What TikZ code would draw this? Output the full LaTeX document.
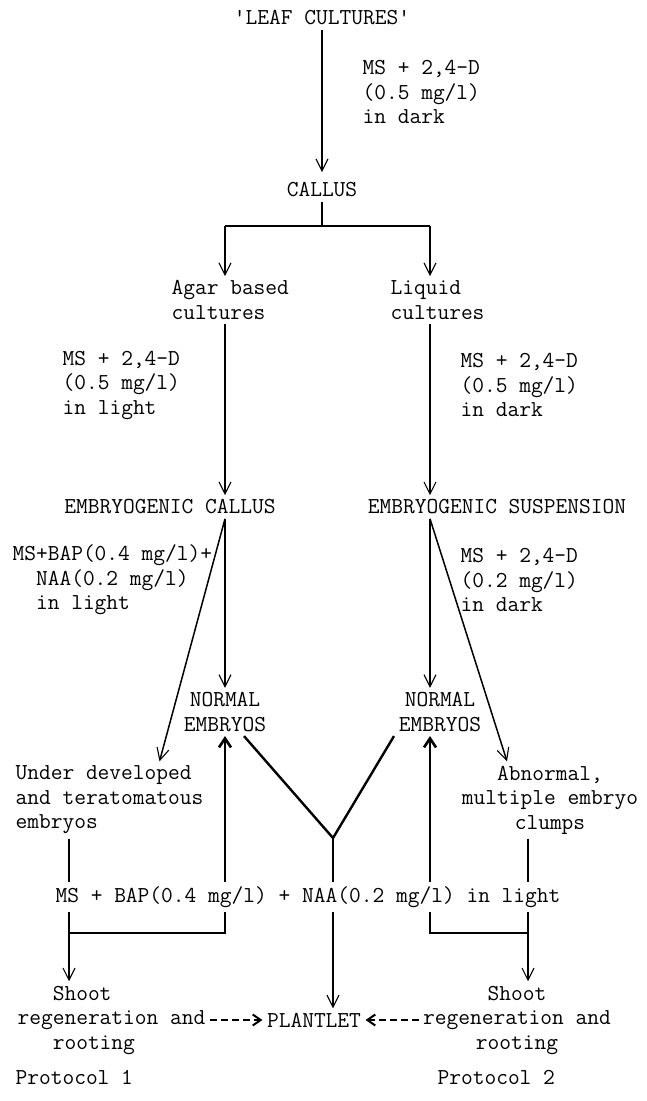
\documentclass[tikz,border=0pt]{standalone}
\usetikzlibrary{arrows.meta}

\begin{document}
\begin{tikzpicture}[
		x=1pt, y=-1pt,
		line width=1.1pt,
		every node/.style={font=\fontsize{22.8}{24.5}\selectfont\ttfamily, inner sep=4pt},
		thin arrow/.style={-{Straight Barb[length=12pt,width=12pt,line width=1.1pt]}},
		bold/.style={line width=2.4pt},
		up arrow/.style={line width=2.6pt, -{Straight Barb[length=9pt,width=12pt,line width=2.6pt]}},
		link dashed/.style={line width=2pt, dash pattern=on 7pt off 4pt, -{Straight Barb[length=8pt,width=11pt,line width=2pt]}},
	]
		\useasboundingbox (0,0) rectangle (646,1101);

		\node (leaf) at (322,18) {'LEAF CULTURES'};
		\node (callus) at (322,190) {CALLUS};
		\node (agar) [anchor=west, align=left] at (167,300) {Agar based\\cultures};
		\node (liquid) [anchor=west, align=left] at (386,300) {Liquid\\cultures};
		\node (emb callus) at (170,507) {EMBRYOGENIC CALLUS};
		\node (emb susp) at (497,507) {EMBRYOGENIC SUSPENSION};
		\node (normal left) [align=center] at (225,712) {NORMAL\\EMBRYOS};
		\node (normal right) [align=center] at (440,712) {NORMAL\\EMBRYOS};
		\node (under) [anchor=west, align=left] at (11,800) {Under developed\\and teratomatous\\embryos};
		\node (abnormal) [align=center] at (550,800) {Abnormal,\\multiple embryo\\clumps};
		\node (medium) at (308,897) {MS + BAP(0.4 mg/l) + NAA(0.2 mg/l) in light};
		\node (shoot left) [anchor=west, align=left] at (13,1020) {\phantom{reg}Shoot\\regeneration and\\\phantom{reg}rooting};
		\node (plantlet) at (314,1020) {PLANTLET};
		\node (shoot right) [align=center] at (517,1020) {Shoot\\regeneration and\\rooting};
		\node (protocol 1) [anchor=west] at (11,1077) {Protocol 1};
		\node (protocol 2) [anchor=west] at (433,1077) {Protocol 2};

		% culture conditions
		\node (cond leaf) [anchor=west, align=left] at (358,92) {MS + 2,4-D\\(0.5 mg/l)\\in dark};
		\node (cond agar) [anchor=west, align=left] at (58,385) {MS + 2,4-D\\(0.5 mg/l)\\in light};
		\node (cond liquid) [anchor=west, align=left] at (456,385) {MS + 2,4-D\\(0.5 mg/l)\\in dark};
		\node (cond embryo) [anchor=west, align=left] at (8,580) {MS+BAP(0.4 mg/l)+\\\phantom{MS}NAA(0.2 mg/l)\\\phantom{MS}in light};
		\node (cond susp) [anchor=west, align=left] at (456,580) {MS + 2,4-D\\(0.2 mg/l)\\in dark};

		\coordinate (split) at (322,226);
		\coordinate (col a) at (69,933);
		\coordinate (col b) at (225,933);
		\coordinate (col c) at (333,838);
		\coordinate (col d) at (430,933);
		\coordinate (col e) at (528,933);

		\draw[bold, thin arrow, shorten >=6pt] (leaf) -- (callus);
		\draw (callus) -- (split);
		\draw[bold] (split -| col b) -- (split -| col d);
		\draw[thin arrow] (split -| col b) -- (agar.north -| col b);
		\draw[thin arrow] (split -| col d) -- (liquid.north -| col d);
		\draw[bold, thin arrow] (agar.south -| col b) -- (emb callus.north -| col b);
		\draw[bold, thin arrow] (liquid.south -| col d) -- (emb susp.north -| col d);

		\draw[bold, thin arrow] (emb callus.south -| col b) -- (normal left.north);
		\draw[line width=1.5pt, thin arrow] (emb callus.south -| col b) -- ([xshift=50pt]under.north);
		\draw[bold, thin arrow] (emb susp.south -| col d) -- (normal right.north -| col d);
		\draw[line width=1.5pt, thin arrow] (emb susp.south -| col d) -- ([xshift=-43pt]abnormal.north);

		\draw[bold] ([xshift=19pt]normal left.south) -- (col c) -- ([xshift=-46pt]normal right.south);
		\draw[bold] (col c) -- (medium.north -| col c);
		\draw[bold, thin arrow] (medium.south -| col c) -- (plantlet.north -| col c);

		\draw (under.south -| col a) -- (medium.north -| col a);
		\draw (medium.south -| col b) -- (col b) -- (col a);
		\draw[thin arrow] (medium.south -| col a) -- (shoot left.north -| col a);
		\draw[up arrow] (medium.north -| col b) -- (normal left.south);

		\draw (abnormal.south -| col e) -- (medium.north -| col e);
		\draw (medium.south -| col d) -- (col d) -- (col e);
		\draw[thin arrow] (medium.south -| col e) -- (shoot right.north -| col e);
		\draw[up arrow] (medium.north -| col d) -- (normal right.south -| col d);

		\draw[link dashed] (shoot left) -- (plantlet);
		\draw[link dashed] (shoot right) -- (plantlet);
	\end{tikzpicture}
\end{document}
